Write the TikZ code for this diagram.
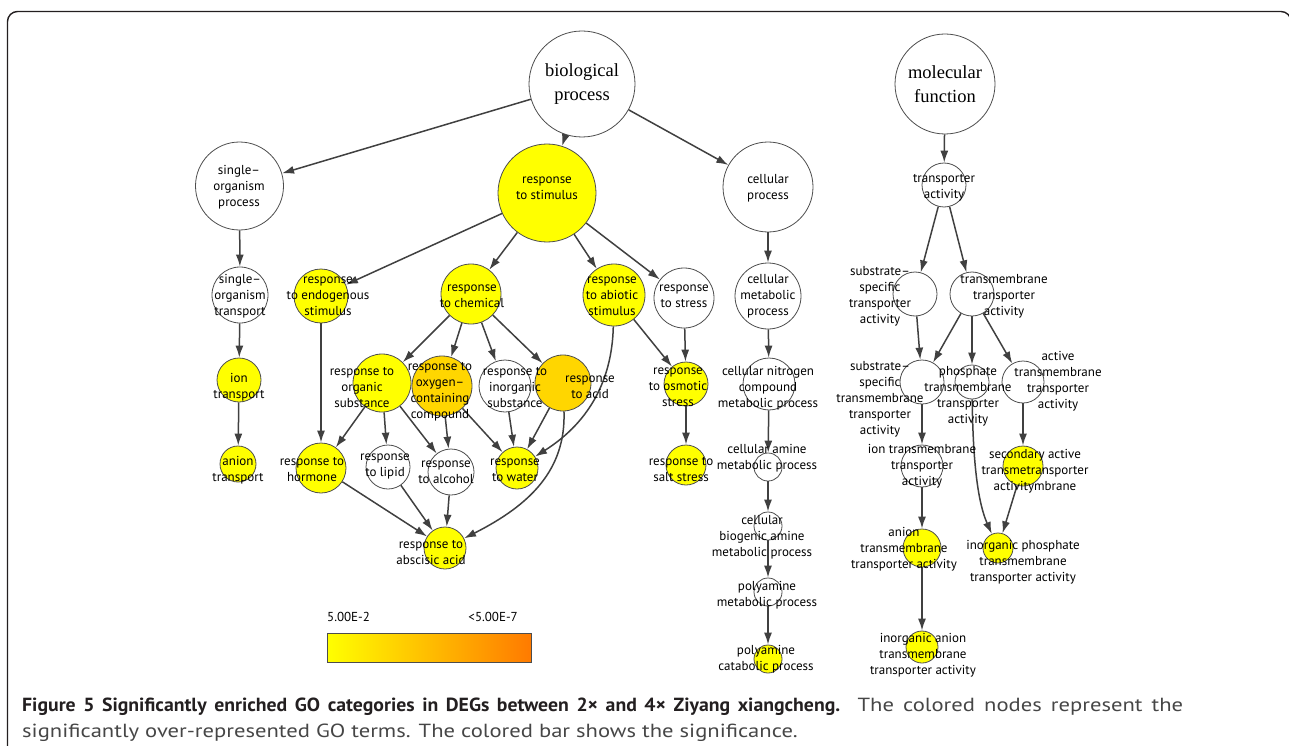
\documentclass[tikz,border=0pt]{standalone}
\usepackage{fontspec}
\setmainfont{PT Sans}
\newfontfamily\serifbig{Liberation Serif}
\newfontfamily\capfont{PT Sans}[FakeStretch=1.19, BoldFeatures={FakeStretch=1.04}]
\usetikzlibrary{arrows.meta}

\definecolor{termyellow}{RGB}{255,255,0}
\definecolor{termgold}{RGB}{255,214,0}
\definecolor{rimgray}{RGB}{77,77,77}
\definecolor{edgegray}{RGB}{64,64,64}
\definecolor{capdark}{RGB}{35,31,32}
\definecolor{capgray}{RGB}{70,70,70}

\newcommand{\termfont}{\fontsize{13}{16}\selectfont}

\tikzset{
  goterm/.style={circle, draw=rimgray, line width=0.8pt, inner sep=0pt, fill=white},
  golabel/.style={align=center, inner sep=0pt, font=\termfont},
  rootlabel/.style={align=center, inner sep=0pt, font=\serifbig\fontsize{18.5}{24}\selectfont},
  goedge/.style={draw=edgegray, line width=1.5pt, -{Latex[length=12pt,width=8pt]}},
}

\begin{document}
\begin{tikzpicture}[x=1pt,y=1pt,yscale=-1,xscale=1]
\useasboundingbox (0,0) rectangle (1289,746);

%Frame
\draw [draw=capdark, line width=1.4pt, rounded corners=10pt] (7.5,800) -- (7.5,11.5) -- (1291,11.5) -- (1291,800);

% Circle Nodes: biological process
\node [goterm, minimum size=106] (bio) at (582,84) {};
\node [goterm, minimum size=88] (sop) at (239.5,186) {};
\node [goterm, minimum size=98, fill=termyellow] (stim) at (547,193) {};
\node [goterm, minimum size=90] (cell) at (768,187) {};
\node [goterm, minimum size=56] (sot) at (240,295) {};
\node [goterm, minimum size=54, fill=termyellow] (endo) at (321,296) {};
\node [goterm, minimum size=60, fill=termyellow] (chem) at (471,294) {};
\node [goterm, minimum size=62, fill=termyellow] (abio) at (614,295) {};
\node [goterm, minimum size=60] (stress) at (684,298) {};
\node [goterm, minimum size=66] (cmet) at (768,296) {};
\node [goterm, minimum size=58, fill=termyellow] (org) at (382,383) {};
\node [goterm, minimum size=60, fill=termgold] (oxy) at (442,386) {};
\node [goterm, minimum size=52] (inorg) at (505,386) {};
\node [goterm, minimum size=56, fill=termgold] (acid) at (563,383) {};
\node [goterm, minimum size=44, fill=termyellow] (osm) at (686,384) {};
\node [goterm, minimum size=52] (cnit) at (769,384) {};
\node [goterm, minimum size=44, fill=termyellow] (ion) at (239,380) {};
\node [goterm, minimum size=36, fill=termyellow] (anion) at (238,464) {};
\node [goterm, minimum size=50, fill=termyellow] (horm) at (321,468) {};
\node [goterm, minimum size=44] (lipid) at (388,467) {};
\node [goterm, minimum size=46] (alco) at (451,472) {};
\node [goterm, minimum size=42, fill=termyellow] (water) at (517,468) {};
\node [goterm, minimum size=40, fill=termyellow] (salt) at (686,465) {};
\node [goterm, minimum size=42, fill=termyellow] (absc) at (445,548) {};
\node [goterm, minimum size=28] (camine) at (768,467) {};
\node [goterm, minimum size=28] (cbio) at (768,526) {};
\node [goterm, minimum size=28] (polym) at (768,592) {};
\node [goterm, minimum size=28, fill=termyellow] (polyc) at (768,659) {};

% Circle Nodes: molecular function
\node [goterm, minimum size=100] (mol) at (945,84) {};
\node [goterm, minimum size=44] (tra) at (944,185) {};
\node [goterm, minimum size=44] (sst) at (915,294) {};
\node [goterm, minimum size=44] (tmt) at (972,294) {};
\node [goterm, minimum size=44] (sstm) at (922,382) {};
\node [goterm, minimum size=34] (phos) at (972,382) {};
\node [goterm, minimum size=42] (act) at (1023,382) {};
\node [goterm, minimum size=42] (iontm) at (922,466) {};
\node [goterm, minimum size=40, fill=termyellow] (sec) at (1023,466) {};
\node [goterm, minimum size=38, fill=termyellow] (aniontm) at (922,548) {};
\node [goterm, minimum size=30, fill=termyellow] (inphos) at (998,548) {};
\node [goterm, minimum size=32, fill=termyellow] (inanion) at (922,647) {};

% Lines
\draw [goedge] (bio) -- (sop);
\draw [goedge] (bio) -- (stim);
\draw [goedge] (bio) -- (cell);
\draw [goedge] (sop) -- (sot);
\draw [goedge] (sot) -- (ion);
\draw [goedge] (ion) -- (anion);
\draw [goedge] (stim) -- (endo);
\draw [goedge] (stim) -- (chem);
\draw [goedge] (stim) -- (abio);
\draw [goedge] (stim) -- (stress);
\draw [goedge] (endo) -- (horm);
\draw [goedge] (chem) -- (org);
\draw [goedge] (chem) -- (oxy);
\draw [goedge] (chem) -- (inorg);
\draw [goedge] (chem) -- (acid);
\draw [goedge] (org) -- (horm);
\draw [goedge] (org) -- (lipid);
\draw [goedge] (org) -- (alco);
\draw [goedge] (oxy) -- (alco);
\draw [goedge] (oxy) -- (water);
\draw [goedge] (inorg) -- (water);
\draw [goedge] (acid) -- (water);
\draw [goedge] (abio) -- (osm);
\draw [goedge] (stress) -- (osm);
\draw [goedge] (osm) -- (salt);
\draw [goedge] (horm) -- (absc);
\draw [goedge] (lipid) -- (absc);
\draw [goedge] (alco) -- (absc);
%Curve Lines
\draw [goedge] (acid) .. controls (566,470) and (530,505) .. (absc);
\draw [goedge] (abio) .. controls (612,385) and (585,425) .. (water);
\draw [goedge] (cell) -- (cmet);
\draw [goedge] (cmet) -- (cnit);
\draw [goedge] (cnit) -- (camine);
\draw [goedge] (camine) -- (cbio);
\draw [goedge] (cbio) -- (polym);
\draw [goedge] (polym) -- (polyc);
\draw [goedge] (mol) -- (tra);
\draw [goedge] (tra) -- (sst);
\draw [goedge] (tra) -- (tmt);
\draw [goedge] (sst) -- (sstm);
\draw [goedge] (tmt) -- (sstm);
\draw [goedge] (tmt) -- (phos);
\draw [goedge] (tmt) -- (act);
\draw [goedge] (sstm) -- (iontm);
\draw [goedge] (iontm) -- (aniontm);
\draw [goedge] (aniontm) -- (inanion);
\draw [goedge] (act) -- (sec);
\draw [goedge] (sec) -- (inphos);
%Curve Lines
\draw [goedge] (phos) .. controls (973,470) and (979,505) .. (inphos);

% Text Nodes
\node [rootlabel] (bio-t) at (582,84) {biological\\process};
\node [rootlabel] (mol-t) at (945,84) {molecular\\function};
\node [golabel] (sop-t) at (239,187) {single–\\organism\\process};
\node [golabel] (stim-t) at (547,188) {response\\to stimulus};
\node [golabel] (cell-t) at (768,188) {cellular\\process};
\node [golabel] (sot-t) at (240,296) {single–\\organism\\transport};
\node [golabel] (endo-t) at (328,296) {response\\to endogenous\\stimulus};
\node [golabel] (chem-t) at (472,296) {response\\to chemical};
\node [golabel] (abio-t) at (612,296) {response\\to abiotic\\stimulus};
\node [golabel] (stress-t) at (684,296) {response\\to stress};
\node [golabel] (cmet-t) at (768,296) {cellular\\metabolic\\process};
\node [golabel] (org-t) at (362,388) {response to\\organic\\substance};
\node [golabel] (oxy-t) at (440,392) {response to\\oxygen–\\containing\\compound};
\node [golabel] (inorg-t) at (515,388) {response to\\inorganic\\substance};
\node [golabel] (acid-t) at (590,387) {response\\to acid};
\node [golabel] (osm-t) at (678,387) {response\\to osmotic\\stress};
\node [golabel] (cnit-t) at (768,388) {cellular nitrogen\\compound\\metabolic process};
\node [golabel] (ion-t) at (239,387) {ion\\transport};
\node [golabel] (anion-t) at (238,470) {anion\\transport};
\node [golabel] (horm-t) at (312,470) {response to\\hormone};
\node [golabel] (lipid-t) at (385,466) {response\\to lipid};
\node [golabel] (alco-t) at (446,472) {response\\to alcohol};
\node [golabel] (water-t) at (515,470) {response\\to water};
\node [golabel] (salt-t) at (681,470) {response to\\salt stress};
\node [golabel] (absc-t) at (431,553) {response to\\abscisic acid};
\node [golabel] (camine-t) at (767,458) {cellular amine\\metabolic process};
\node [golabel] (cbio-t) at (762,537) {cellular\\biogenic amine\\metabolic process};
\node [golabel] (polym-t) at (767,595) {polyamine\\metabolic process};
\node [golabel] (polyc-t) at (766,659) {polyamine\\catabolic process};
\node [golabel] (tra-t) at (944,188) {transporter\\activity};
\node [golabel] (sst-t) at (880,296) {substrate–\\specific\\transporter\\activity};
\node [golabel] (tmt-t) at (1004,296) {transmembrane\\transporter\\activity};
\node [golabel] (sstm-t) at (880,399) {substrate–\\specific\\transmembrane\\transporter\\activity};
\node [golabel] (phos-t) at (968,396) {phosphate\\transmembrane\\transporter\\activity};
\node [golabel] (act-t) at (1058,381) {active\\transmembrane\\transporter\\activity};
\node [golabel] (iontm-t) at (922,466) {ion transmembrane\\transporter\\activity};
\node [golabel] (sec-t) at (1035,471) {secondary active\\transmetransporter\\activitymbrane};
\node [golabel] (aniontm-t) at (904,549) {anion\\transmembrane\\transporter activity};
\node [golabel] (inphos-t) at (1023,562) {inorganic phosphate\\transmembrane\\transporter activity};
\node [golabel] (inanion-t) at (923,655) {inorganic anion\\transmembrane\\transporter activity};

% Legend
\node [anchor=west, inner sep=0pt, font=\fontsize{13}{16}\selectfont] (lo) at (327,617) {5.00E-2};
\node [anchor=east, inner sep=0pt, font=\fontsize{13}{16}\selectfont] (hi) at (518,617) {<5.00E-7};
\node [draw=rimgray, line width=1pt, minimum width=204, minimum height=29, inner sep=0pt,
       left color=termyellow, middle color={rgb,255:red,255;green,196;blue,0}, right color={rgb,255:red,255;green,122;blue,0}] (bar) at (429.5,648) {};

% Caption
\node [anchor=base west, inner sep=0pt, font=\capfont\fontsize{19}{26}\selectfont] (cap1) at (22,711)
  {\makebox[1161pt][s]{\textcolor{capdark}{\textbf{Figure 5 Significantly enriched GO categories in DEGs between 2× and 4× Ziyang xiangcheng.}} \textcolor{capgray}{The colored nodes represent the}}};
\node [anchor=base west, inner sep=0pt, font=\capfont\fontsize{19}{26}\selectfont, text=capgray] (cap2) at (22,737)
  {significantly over-represented GO terms. The colored bar shows the significance.};

\end{tikzpicture}
\end{document}
